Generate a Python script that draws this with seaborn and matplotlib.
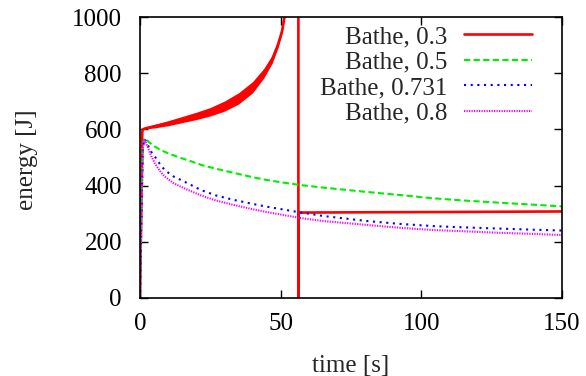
import matplotlib
matplotlib.use("Agg")
import matplotlib.pyplot as plt
import seaborn as sns
import pandas as pd

# ---- data ----
labels = ["Bathe, 0.3", "Bathe, 0.5", "Bathe, 0.731", "Bathe, 0.8"]

t_red = [0, 0.8, 1.0, 2, 5, 10, 15, 20, 25, 30, 35, 40, 44, 47, 49, 50.5, 51.5,
         56.3, 56.3, 56.35, 80, 110, 150]
e_red = [0, 590, 600, 604, 611, 622, 635, 648, 663, 683, 710, 750, 800, 850, 900, 950, 1010,
         5000, -100, 304, 305, 306, 308]

t_band = [1, 2, 5, 10, 15, 20, 25, 30, 35, 40, 44, 47, 49, 50.5, 51.5]
band_lo = [599, 602, 605, 613, 624, 635, 648, 665, 690, 730, 783, 836, 889, 942, 1003]
band_hi = [601, 606, 617, 631, 646, 661, 678, 701, 730, 770, 817, 864, 911, 958, 1017]

t_green = [0, 0.5, 1.0, 1.5, 2, 3, 5, 7, 10, 14, 18, 22, 27, 33, 40, 45, 50, 57, 65,
           80, 95, 104, 115, 128, 140, 150]
e_green = [0, 300, 540, 568, 566, 556, 541, 528, 515, 500, 487, 473, 460, 446, 430, 420,
           412, 402, 393, 378, 364, 355, 347, 339, 332, 326]

t_blue = [0, 0.5, 1.0, 1.5, 2, 3, 4, 5.3, 7, 8.8, 12, 15.8, 21.7, 27, 33.4, 40, 45,
          55.5, 65, 80.6, 92, 104, 116, 128, 140, 150]
e_blue = [0, 280, 530, 566, 560, 540, 520, 503, 478, 455, 432, 414, 384, 365, 349, 335,
          325, 307, 292, 274, 264, 256, 251, 247, 243, 240]

t_mag = [0, 0.5, 1.0, 1.5, 2, 3, 4, 5.3, 7, 8.8, 12, 15.8, 21.7, 27, 33.4, 40, 45,
         56.8, 65, 80.6, 92, 104, 116, 128, 140, 150]
e_mag = [0, 280, 530, 566, 555, 530, 505, 479, 453, 432, 408, 390, 365, 347, 331, 316,
         306, 285, 274, 260, 250, 242, 237, 232, 228, 224]

x_ticks = [0, 50, 100, 150]
y_ticks = [0, 200, 400, 600, 800, 1000]

# ---- style ----
sns.set_style("ticks")
plt.rcParams["font.family"] = ["Liberation Serif", "DejaVu Serif"]
plt.rcParams["font.size"] = 18

fig = plt.figure(figsize=(5.86, 3.76), dpi=100)
ax = fig.add_axes([140 / 586, 78 / 376, 422 / 586, 281 / 376])

colors = ["#ff0000", "#00ee00", "#0000ff", "#ff00ff"]
dash_specs = [None, (3, 1.6), (1, 2.2), (0.6, 0.6)]
series = [(t_red, e_red), (t_green, e_green), (t_blue, e_blue), (t_mag, e_mag)]

ax.fill_between(t_band, band_lo, band_hi, color=colors[0], lw=0)

for (tt, ee), lab, col, dsh in zip(series, labels, colors, dash_specs):
    df = pd.DataFrame({"t": tt, "e": ee})
    sns.lineplot(data=df, x="t", y="e", ax=ax, color=col, label=lab,
                 sort=False, estimator=None, lw=1.9 if dsh is None else 1.5)
    line = ax.lines[-1]
    if dsh is not None:
        line.set_dashes(dsh)

ax.set_xlim(0, 150)
ax.set_ylim(0, 1000)
ax.set_xticks(x_ticks)
ax.set_yticks(y_ticks)
ax.tick_params(direction="in", top=True, right=True, length=5.5, width=1,
               labelsize=18, colors="black")
ax.tick_params(axis="y", pad=13)
ax.tick_params(axis="x", pad=11)
for s in ax.spines.values():
    s.set_visible(True)
    s.set_color("black")
    s.set_linewidth(1.2)

ax.set_xlabel("time [s]", fontsize=18)
ax.set_ylabel("energy [J]", fontsize=18)
ax.xaxis.set_label_coords(0.5, -0.203)
ax.yaxis.set_label_coords(-0.241, 0.491)

leg = ax.legend(loc="upper right", bbox_to_anchor=(0.929, 0.969), frameon=False,
                markerfirst=False, handlelength=2.72, handletextpad=0.68,
                labelspacing=0.12, borderpad=0, borderaxespad=0, fontsize=18)

fig.savefig("out.png", dpi=100)
